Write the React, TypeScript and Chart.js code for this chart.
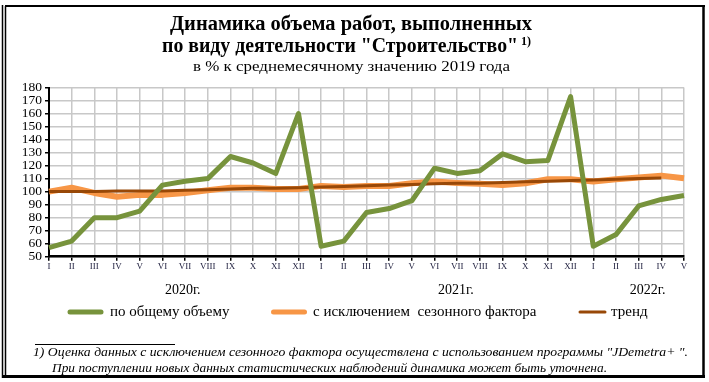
import React, { useEffect, useRef } from "react";
import { Chart, registerables } from "chart.js";

Chart.register(...registerables);

const monthLabels = [
  "I", "II", "III", "IV", "V", "VI", "VII", "VIII", "IX", "X", "XI", "XII",
  "I", "II", "III", "IV", "V", "VI", "VII", "VIII", "IX", "X", "XI", "XII",
  "I", "II", "III", "IV", "V",
];

const yearLabels = ["2020г.", "2021г.", "2022г."];

const totalVolume = [
  57, 62, 80, 80, 85, 105, 108, 110, 127, 122, 114, 160,
  58, 62, 84, 87, 93, 118, 114, 116, 129, 123, 124, 173,
  58, 67, 89, 94, 97,
];

const seasonallyAdjusted = [
  100, 103, 99, 96, 97.5, 97.5, 99, 101, 103, 103, 102, 102,
  104.4, 103.5, 104.4, 104.4, 106.4, 107.7, 106.7, 106, 105, 106.4, 109.5, 109.5,
  107.7, 109.5, 110.8, 112.3, 110.3,
];

const trend = [
  100, 100, 100, 100.5, 100.5, 100.5, 101, 101.5, 102, 102.5, 102.5, 103,
  103.5, 104, 104.5, 105, 105.5, 106, 106.5, 106.5, 107, 107.5, 108, 108.5,
  109, 109.5, 110, 110.5, null,
];

const seriesNames = ["по общему объему", "с исключением  сезонного фактора", "тренд"];

const titleLine1 = "Динамика объема работ, выполненных";
const titleLine2 = 'по виду деятельности "Строительство"';
const titleSup = "1)";
const subtitle = "в % к среднемесячному значению 2019 года";
const footnote1 = '1) Оценка данных с исключением сезонного фактора осуществлена с использованием программы "JDemetra+ ".';
const footnote2 = "При поступлении новых данных статистических наблюдений динамика может быть уточнена.";

const SERIF = "'Liberation Serif', 'Times New Roman', serif";

function fitText(ctx: CanvasRenderingContext2D, text: string, x: number, y: number, targetW: number) {
  const w = ctx.measureText(text).width;
  const sx = targetW / w;
  ctx.save();
  ctx.translate(x, y);
  ctx.scale(sx, 1);
  ctx.textAlign = "left";
  ctx.fillText(text, 0, 0);
  ctx.restore();
}

const decorPlugin = {
  id: "decor",
  beforeDraw(chart: any) {
    const ctx = chart.ctx as CanvasRenderingContext2D;
    ctx.save();
    ctx.fillStyle = "#ffffff";
    ctx.fillRect(0, 0, chart.width, chart.height);
    ctx.restore();
  },
  afterDraw(chart: any) {
    const ctx = chart.ctx as CanvasRenderingContext2D;
    const xs = chart.scales.x;
    ctx.save();
    // frame
    ctx.strokeStyle = "#000";
    ctx.lineWidth = 1.5;
    ctx.beginPath();
    ctx.moveTo(2.5, 5);
    ctx.lineTo(2.5, 378);
    ctx.stroke();
    ctx.beginPath();
    ctx.moveTo(5.5, 6);
    ctx.lineTo(5.5, 376);
    ctx.stroke();
    ctx.lineWidth = 2;
    ctx.beginPath();
    ctx.moveTo(5, 6);
    ctx.lineTo(705, 6);
    ctx.stroke();
    ctx.lineWidth = 2.5;
    ctx.beginPath();
    ctx.moveTo(703.5, 5);
    ctx.lineTo(703.5, 378);
    ctx.stroke();
    ctx.lineWidth = 3;
    ctx.beginPath();
    ctx.moveTo(2, 376.5);
    ctx.lineTo(705, 376.5);
    ctx.stroke();

    // titles
    ctx.fillStyle = "#000";
    ctx.textBaseline = "alphabetic";
    ctx.font = `bold 20px ${SERIF}`;
    fitText(ctx, titleLine1, 170, 30, 362);
    fitText(ctx, titleLine2, 162, 52, 356);
    ctx.font = `bold 12px ${SERIF}`;
    ctx.textAlign = "left";
    ctx.fillText(titleSup, 521, 45);
    ctx.font = `14px ${SERIF}`;
    fitText(ctx, subtitle, 193, 71, 317);

    // year labels under months
    ctx.font = `14px ${SERIF}`;
    ctx.textAlign = "center";
    ctx.textBaseline = "middle";
    const yearPos = [
      (xs.getPixelForValue(5) + xs.getPixelForValue(6)) / 2 + 9,
      (xs.getPixelForValue(17) + xs.getPixelForValue(18)) / 2 + 10,
      xs.getPixelForValue(26) + 9,
    ];
    yearLabels.forEach((t, i) => ctx.fillText(t, yearPos[i], 290));

    // legend
    const ds = chart.data.datasets;
    const markers = [
      { x1: 70, x2: 101, tx: 110, w: 5 },
      { x1: 273.5, x2: 304.5, tx: 313, w: 5 },
      { x1: 580, x2: 605, tx: 611, w: 3 },
    ];
    ctx.textAlign = "left";
    ctx.font = `15px ${SERIF}`;
    markers.forEach((m, i) => {
      ctx.strokeStyle = ds[i].borderColor;
      ctx.lineWidth = m.w;
      ctx.lineCap = "round";
      ctx.beginPath();
      ctx.moveTo(m.x1, 312);
      ctx.lineTo(m.x2, 312);
      ctx.stroke();
      ctx.fillStyle = "#000";
      ctx.fillText(ds[i].label, m.tx, 312);
    });

    // footnote
    ctx.lineCap = "butt";
    ctx.strokeStyle = "#000";
    ctx.lineWidth = 1;
    ctx.beginPath();
    ctx.moveTo(35, 344.5);
    ctx.lineTo(175, 344.5);
    ctx.stroke();
    ctx.textBaseline = "alphabetic";
    ctx.font = `italic 13px ${SERIF}`;
    fitText(ctx, footnote1, 33, 356, 655);
    fitText(ctx, footnote2, 52, 372, 555);
    ctx.restore();
  },
};

export default function App() {
  const ref = useRef<HTMLCanvasElement>(null);
  useEffect(() => {
    if (!ref.current) return;
    const chart = new Chart(ref.current, {
      type: "line",
      data: {
        labels: monthLabels,
        datasets: [
          {
            label: seriesNames[0],
            data: totalVolume,
            borderColor: "#77933C",
            backgroundColor: "#77933C",
            borderWidth: 5,
            pointRadius: 0,
            borderJoinStyle: "round",
            order: 0,
          },
          {
            label: seriesNames[1],
            data: seasonallyAdjusted,
            borderColor: "#F79646",
            backgroundColor: "#F79646",
            borderWidth: 6,
            pointRadius: 0,
            borderJoinStyle: "round",
            order: 2,
          },
          {
            label: seriesNames[2],
            data: trend,
            borderColor: "#984807",
            backgroundColor: "#984807",
            borderWidth: 3,
            pointRadius: 0,
            borderJoinStyle: "round",
            order: 1,
          },
        ],
      },
      options: {
        responsive: false,
        animation: false,
        events: [],
        layout: { padding: { left: 8, right: 25, top: 87.5, bottom: 105.3 } },
        plugins: {
          legend: { display: false },
          title: { display: false },
          tooltip: { enabled: false },
        },
        scales: {
          x: {
            type: "category",
            offset: false,
            grid: {
              offset: false,
              color: "#c8c8c8",
              lineWidth: 1.5,
              tickColor: "#000",
              tickLength: 4,
            },
            border: { display: true, color: "#000", width: 2.5 },
            ticks: {
              autoSkip: false,
              maxRotation: 0,
              minRotation: 0,
              padding: 1,
              color: "#1a1a3a",
              font: { family: SERIF, size: 9 },
            },
            afterFit(scale: any) {
              scale.height = 20;
            },
          },
          y: {
            min: 50,
            max: 180,
            ticks: {
              stepSize: 10,
              autoSkip: false,
              padding: 3,
              color: "#000",
              font: { family: SERIF, size: 13.5 },
            },
            grid: {
              color: "#c8c8c8",
              lineWidth: 1.5,
              tickColor: "#000",
              tickLength: 4,
            },
            border: { display: true, color: "#000", width: 2 },
            afterFit(scale: any) {
              scale.width = 41;
            },
          },
        },
      },
      plugins: [decorPlugin],
    });
    return () => chart.destroy();
  }, []);
  return (
    <div style={{ position: "absolute", left: 0, top: 0, width: 709, height: 382 }}>
      <canvas ref={ref} width={709} height={382} style={{ display: "block" }} />
    </div>
  );
}
